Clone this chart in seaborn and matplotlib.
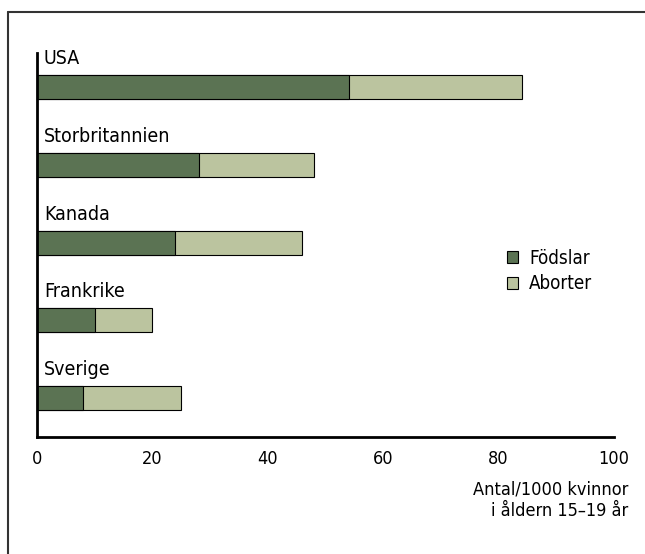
import pandas as pd
import matplotlib.pyplot as plt
import seaborn as sns
from matplotlib.lines import Line2D
from matplotlib.patches import Patch
import warnings

warnings.filterwarnings('ignore')

countries = ['USA', 'Storbritannien', 'Kanada', 'Frankrike', 'Sverige']
births = [54, 28, 24, 10, 8]
abortions = [30, 20, 22, 10, 17]
xticks = [0, 20, 40, 60, 80, 100]

DARK = '#5b7353'
LIGHT = '#bbc49f'

sns.set_theme(style="white")
plt.rcParams['font.family'] = ['DejaVu Sans']
plt.rcParams['font.stretch'] = 'condensed'
plt.rcParams['font.size'] = 13
plt.rcParams['text.color'] = 'black'
plt.rcParams['xtick.color'] = 'black'

df = pd.DataFrame({'Land': countries, 'Födslar': births, 'Aborter': abortions})
df['Totalt'] = df['Födslar'] + df['Aborter']

fig = plt.figure(figsize=(6.45, 5.54), dpi=100)
ax = fig.add_axes([37 / 645, 1 - 437 / 554, (614 - 37) / 645, (437 - 53) / 554])

# staplat: totalen först i ljust, sedan födslar ovanpå i mörkt
sns.barplot(data=df, y='Land', x='Totalt', orient='h', color=LIGHT, width=0.31,
            edgecolor='black', linewidth=0.8, saturation=1, ax=ax)
sns.barplot(data=df, y='Land', x='Födslar', orient='h', color=DARK, width=0.31,
            edgecolor='black', linewidth=0.8, saturation=1, ax=ax)

ax.set_xlim(0, 100)
ax.set_ylim(4.5, -0.44)
ax.set_xticks(xticks)
ax.set_xticklabels([str(t) for t in xticks], fontsize=13)
ax.set_yticks([])
ax.set_xlabel('')
ax.set_ylabel('')
ax.tick_params(axis='x', direction='in', length=6, width=1, color='#555555', pad=9)

for s in ['top', 'right']:
    ax.spines[s].set_visible(False)
for s in ['left', 'bottom']:
    ax.spines[s].set_color('black')
    ax.spines[s].set_linewidth(2)

# landnamn ovanför varje stapel
for i, name in enumerate(countries):
    ax.annotate(name, xy=(0, i - 0.155), xytext=(5, 5), textcoords='offset points',
                ha='left', va='bottom', fontsize=14)

handles = [Patch(facecolor=DARK, edgecolor='black', linewidth=0.8, label='Födslar'),
           Patch(facecolor=LIGHT, edgecolor='black', linewidth=0.8, label='Aborter')]
ax.legend(handles=handles, loc='center left', bbox_to_anchor=(0.785, 0.432), frameon=False,
          fontsize=13.5, handlelength=0.6, handleheight=0.6, handletextpad=0.6, labelspacing=0.35)

fig.text(628 / 645, 1 - 480 / 554, 'Antal/1000 kvinnor\ni åldern 15–19 år', ha='right', va='top',
         multialignment='right', fontsize=13, linespacing=1.3)

# ram uppe och till vänster
fig.add_artist(Line2D([8 / 645, 8 / 645], [0, 1 - 12 / 554], color='#333333', lw=1.5))
fig.add_artist(Line2D([8 / 645, 1], [1 - 12 / 554, 1 - 12 / 554], color='#333333', lw=1.5))

fig.savefig('out.png', dpi=100)
